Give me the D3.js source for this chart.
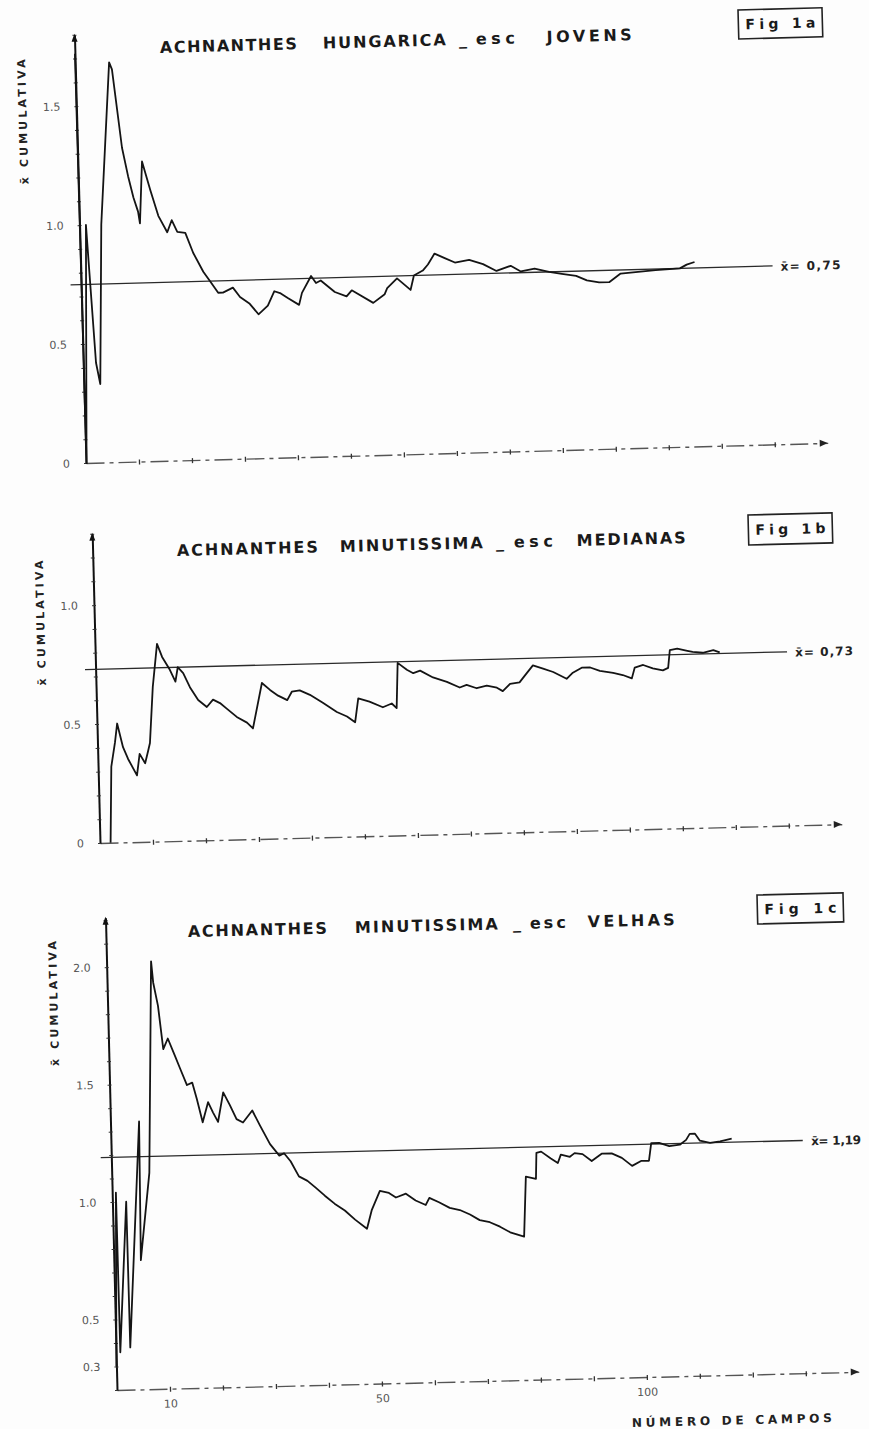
<!DOCTYPE html>
<html lang="pt">
<head>
<meta charset="utf-8">
<title>Achnanthes - media cumulativa</title>
<script src="https://cdnjs.cloudflare.com/ajax/libs/d3/7.8.5/d3.min.js"></script>
<style>
  html, body { margin: 0; padding: 0; background: #fdfdfd; }
  #svg-container svg { display: block; }
  text { font-family: "DejaVu Sans", "Liberation Sans", sans-serif; }
</style>
</head>
<body>
<div id="svg-container"></div>
<script>
/// DATA (numero de campos -> media cumulativa)

// Fig 1a  Achnanthes hungarica, esc. jovens
const camposA = [0, 0.1, 1.2, 2.4, 3.1, 4.1, 6.4, 6.9, 8.4, 9.4, 10.3, 11.1, 11.4, 12.1, 13.5, 14.9, 16.5, 17.4, 18.4, 19.9, 21.3, 23.1, 24.3, 25.8, 26.7, 28.6, 29.9, 31.7, 33.3, 35.1, 36.4, 37.6, 38.9, 41.0, 41.6, 43.4, 44.3, 45.2, 47.8, 50.0, 51.0, 55.0, 57.2, 57.7, 59.6, 62.1, 62.8, 64.5, 65.5, 66.8, 68.7, 70.6, 73.3, 75.9, 78.4, 81.1, 83.0, 85.6, 88.3, 90.7, 93.4, 95.4, 97.7, 99.6, 101.8, 105.1, 108.4, 113.0, 114.3, 115.8]
const mediaA = [1.72, 0.0, 1.0, 0.42, 0.33, 1.0, 1.68, 1.65, 1.32, 1.2, 1.11, 1.05, 1.0, 1.26, 1.14, 1.03, 0.96, 1.01, 0.96, 0.955, 0.87, 0.79, 0.75, 0.7, 0.7, 0.72, 0.68, 0.65, 0.605, 0.64, 0.7, 0.69, 0.67, 0.64, 0.69, 0.76, 0.73, 0.74, 0.69, 0.67, 0.695, 0.64, 0.675, 0.7, 0.74, 0.69, 0.75, 0.77, 0.795, 0.84, 0.82, 0.8, 0.81, 0.79, 0.76, 0.78, 0.755, 0.765, 0.75, 0.74, 0.73, 0.71, 0.7, 0.7, 0.735, 0.74, 0.745, 0.75, 0.765, 0.775]
const meanA = 0.75
const meanLabelA = "x̄= 0,75"
const yTicksA = [0, 0.5, 1.0, 1.5]
const yLabelsA = ["0", "0.5", "1.0", "1.5"]

// Fig 1b  Achnanthes minutissima, esc. medianas
const camposB = [2.0, 2.5, 3.3, 3.8, 4.8, 5.7, 7.3, 7.9, 8.9, 9.5, 9.9, 10.7, 11.7, 12.6, 14.0, 15.0, 15.5, 16.5, 17.7, 19.2, 20.8, 22.0, 23.3, 24.6, 26.4, 28.3, 29.4, 31.3, 32.8, 34.3, 36.0, 36.9, 38.4, 40.3, 42.7, 45.3, 47.2, 48.7, 49.4, 51.5, 54.0, 55.7, 56.6, 57.0, 58.7, 59.9, 61.2, 63.6, 66.2, 68.6, 69.9, 71.8, 73.7, 75.6, 76.7, 78.1, 79.9, 81.0, 82.5, 84.4, 86.3, 88.8, 90.0, 91.7, 93.3, 95.1, 97.6, 99.4, 101.1, 101.7, 103.3, 105.1, 107.0, 108.0, 108.4, 109.8, 111.7, 112.7, 114.6, 116.6, 117.8]
const mediaB = [0.0, 0.32, 0.42, 0.5, 0.4, 0.35, 0.28, 0.37, 0.33, 0.38, 0.415, 0.65, 0.83, 0.775, 0.72, 0.67, 0.73, 0.705, 0.645, 0.59, 0.56, 0.59, 0.575, 0.55, 0.515, 0.49, 0.465, 0.655, 0.625, 0.6, 0.58, 0.615, 0.62, 0.6, 0.565, 0.525, 0.505, 0.48, 0.58, 0.565, 0.54, 0.555, 0.535, 0.725, 0.695, 0.68, 0.69, 0.66, 0.64, 0.615, 0.625, 0.61, 0.62, 0.61, 0.595, 0.625, 0.63, 0.66, 0.7, 0.685, 0.67, 0.64, 0.665, 0.685, 0.685, 0.67, 0.66, 0.65, 0.635, 0.68, 0.69, 0.675, 0.665, 0.675, 0.75, 0.755, 0.745, 0.74, 0.735, 0.745, 0.735]
const meanB = 0.73
const meanLabelB = "x̄= 0,73"
const yTicksB = [0, 0.5, 1.0]
const yLabelsB = ["0", "0.5", "1.0"]

// Fig 1c  Achnanthes minutissima, esc. velhas
const camposC = [0.0, 0.7, 0.8, 2.6, 2.7, 5.4, 5.1, 7.1, 8.4, 8.7, 9.5, 10.3, 11.2, 12.4, 13.4, 14.6, 15.6, 16.4, 17.4, 18.5, 19.4, 20.3, 21.4, 22.6, 23.8, 25.0, 26.8, 28.2, 30.0, 31.7, 32.6, 33.8, 35.3, 36.9, 38.4, 40.1, 41.9, 43.8, 45.7, 47.9, 48.9, 50.5, 52.2, 53.5, 55.4, 57.2, 59.1, 59.8, 61.6, 63.6, 65.5, 67.4, 69.2, 71.1, 73.0, 74.9, 77.5, 78.1, 80.0, 80.2, 81.1, 82.9, 84.2, 84.8, 86.5, 87.4, 88.9, 90.6, 92.5, 94.4, 96.3, 98.2, 99.9, 101.4, 101.9, 103.4, 105.3, 107.3, 108.5, 109.2, 110.2, 111.1, 113.0, 114.9, 117.1]
const mediaC = [0.3, 1.04, 0.36, 1.0, 0.38, 1.34, 0.75, 1.12, 2.02, 1.93, 1.83, 1.645, 1.69, 1.62, 1.56, 1.49, 1.5, 1.43, 1.33, 1.415, 1.37, 1.33, 1.455, 1.4, 1.34, 1.325, 1.375, 1.31, 1.23, 1.18, 1.19, 1.155, 1.09, 1.07, 1.04, 1.005, 0.97, 0.94, 0.9, 0.86, 0.94, 1.02, 1.01, 0.99, 1.005, 0.975, 0.955, 0.985, 0.965, 0.94, 0.93, 0.91, 0.885, 0.875, 0.855, 0.83, 0.81, 1.065, 1.055, 1.165, 1.17, 1.14, 1.12, 1.155, 1.145, 1.16, 1.155, 1.125, 1.155, 1.155, 1.135, 1.1, 1.12, 1.12, 1.195, 1.195, 1.18, 1.185, 1.205, 1.23, 1.23, 1.2, 1.19, 1.195, 1.205]
const meanC = 1.19
const meanLabelC = "x̄= 1,19"
const yTicksC = [0.3, 0.5, 1.0, 1.5, 2.0]
const yLabelsC = ["0.3", "0.5", "1.0", "1.5", "2.0"]
const xTicksC = [10, 50, 100]
const xLabelsC = ["10", "50", "100"]

const yTitle = "x̄ CUMULATIVA"
const xTitle = "NÚMERO DE CAMPOS"

/// LAYOUT

const width = 869
const height = 1429
const pxPerCampo = 5.3
const xMax = 140
const meanFrom = -2
const meanTo = 130.5

// the scan is slightly rotated, every panel is drawn in its own tilted frame
const panels = [
  {
    campos: camposA, media: mediaA, mean: meanA, meanLabel: meanLabelA, meanLabelW: 60,
    yTicks: yTicksA, yLabels: yLabelsA, fig: "Fig 1a",
    ox: 86, oy: 463, angle: 1.55, pxUnit: 238, yBase: 0, yTop: 1.8, yTitleAt: 1.44,
    titleBase: [160, 53],
    title: [["ACHNANTHES", 160, 297], ["HUNGARICA", 323, 446], ["_", 459, 469], ["esc", 476, 515], ["JOVENS", 547, 632]],
    figBox: [738, 10, 84, 29],
  },
  {
    campos: camposB, media: mediaB, mean: meanB, meanLabel: meanLabelB, meanLabelW: 58,
    yTicks: yTicksB, yLabels: yLabelsB, fig: "Fig 1b",
    ox: 100, oy: 843, angle: 1.45, pxUnit: 238, yBase: 0, yTop: 1.3, yTitleAt: 0.93,
    titleBase: [177, 556],
    title: [["ACHNANTHES", 177, 318], ["MINUTISSIMA", 340, 483], ["_", 496, 509], ["esc", 514, 553], ["MEDIANAS", 577, 686]],
    figBox: [748, 515, 84, 30],
  },
  {
    campos: camposC, media: mediaC, mean: meanC, meanLabel: meanLabelC, meanLabelW: 50,
    yTicks: yTicksC, yLabels: yLabelsC, fig: "Fig 1c",
    xTicks: xTicksC, xLabels: xLabelsC,
    ox: 117, oy: 1390, angle: 1.4, pxUnit: 235, yBase: 0.2, yTop: 2.21, yTitleAt: 1.85,
    titleBase: [188, 937],
    title: [["ACHNANTHES", 188, 327], ["MINUTISSIMA", 355, 498], ["_", 513, 525], ["esc", 530, 566], ["VELHAS", 588, 675]],
    figBox: [757, 895, 86, 29],
  },
]

const svg = d3
  .select("#svg-container")
  .append("svg")
  .attr("width", width)
  .attr("height", height)
  .attr("viewBox", [0, 0, width, height])

svg.append("rect").attr("width", width).attr("height", height).attr("fill", "#fdfdfd")

// screen point -> tilted panel frame
const toLocal = (p, X, Y) => {
  const a = (p.angle * Math.PI) / 180
  const dx = X - p.ox
  const dy = Y - p.oy
  return [dx * Math.cos(a) - dy * Math.sin(a), dx * Math.sin(a) + dy * Math.cos(a)]
}

panels.forEach((p) => {
  const g = svg
    .append("g")
    .attr("transform", `translate(${p.ox},${p.oy}) rotate(${-p.angle})`)

  /// SCALES

  const xScale = d3
    .scaleLinear()
    .domain([0, xMax])
    .range([0, xMax * pxPerCampo])

  const yScale = d3
    .scaleLinear()
    .domain([p.yBase, p.yTop])
    .range([0, -(p.yTop - p.yBase) * p.pxUnit])

  /// AXES

  const xAxisGenerator = d3
    .axisBottom(xScale)
    .tickValues(d3.range(10, xMax, 10))
    .tickSizeInner(3)
    .tickSizeOuter(0)
    .tickFormat("")

  g.append("g")
    .attr("class", "x-axis")
    .call(xAxisGenerator)
    .call((a) =>
      a.select(".domain")
        .attr("stroke", "#555")
        .attr("stroke-width", 1.4)
        .attr("stroke-dasharray", "18 5 4 5")
    )
    .call((a) =>
      a.selectAll(".tick line").attr("stroke", "#333").attr("stroke-width", 1.3).attr("y1", -2)
    )

  g.append("path")
    .attr("d", `M${xScale(xMax) - 8},-3.5L${xScale(xMax)},0L${xScale(xMax) - 8},3.5Z`)
    .attr("fill", "#222")

  if (p.xTicks) {
    g.append("g")
      .attr("class", "x-labels")
      .call(
        d3.axisBottom(xScale)
          .tickValues(p.xTicks)
          .tickSize(0)
          .tickPadding(11)
          .tickFormat((d, i) => p.xLabels[i])
      )
      .call((a) => a.select(".domain").remove())
      .selectAll("text")
      .style("font-family", "DejaVu Sans")
      .style("font-size", "11px")
      .attr("fill", "#555")

    const xt = toLocal(p, 632, 1427)
    g.append("text")
      .attr("x", xt[0])
      .attr("y", xt[1])
      .attr("textLength", 200)
      .attr("lengthAdjust", "spacing")
      .style("font-size", "12px")
      .style("font-weight", "bold")
      .attr("fill", "#222")
      .text(xTitle)
  }

  const minorTicks = d3
    .range(Math.ceil(p.yBase * 10), Math.floor(p.yTop * 10) + 1)
    .map((d) => d / 10)

  g.append("g")
    .attr("class", "y-axis")
    .call(d3.axisLeft(yScale).tickValues(minorTicks).tickSizeInner(3).tickSizeOuter(0).tickFormat(""))
    .call((a) => a.select(".domain").attr("stroke", "#111").attr("stroke-width", 2))
    .call((a) => a.selectAll(".tick line").attr("stroke", "#333").attr("x2", 2).attr("x1", -2))

  g.append("g")
    .attr("class", "y-labels")
    .call(
      d3.axisLeft(yScale)
        .tickValues(p.yTicks)
        .tickSize(0)
        .tickPadding(16)
        .tickFormat((d, i) => p.yLabels[i])
    )
    .call((a) => a.select(".domain").remove())
    .selectAll("text")
    .style("font-family", "DejaVu Sans")
    .style("font-size", "11px")
    .attr("fill", "#555")

  const yTopPx = yScale(p.yTop)
  g.append("path")
    .attr("d", `M-3,${yTopPx + 7}L0,${yTopPx - 1}L3,${yTopPx + 7}Z`)
    .attr("fill", "#111")

  g.append("text")
    .attr("transform", `translate(-50,${yScale(p.yTitleAt)}) rotate(-90)`)
    .attr("text-anchor", "middle")
    .attr("textLength", 125)
    .attr("lengthAdjust", "spacing")
    .style("font-size", "11px")
    .style("font-weight", "bold")
    .attr("fill", "#222")
    .text(yTitle)

  /// LINES

  const lineGenerator = d3
    .line()
    .x((d) => xScale(d[0]))
    .y((d) => yScale(d[1]))

  g.append("path")
    .datum([[meanFrom, p.mean], [meanTo, p.mean]])
    .attr("d", lineGenerator)
    .attr("fill", "none")
    .attr("stroke", "#2a2a2a")
    .attr("stroke-width", 1.3)

  g.append("text")
    .attr("x", xScale(meanTo) + 8)
    .attr("y", yScale(p.mean) + 5)
    .attr("textLength", p.meanLabelW)
    .attr("lengthAdjust", "spacing")
    .style("font-size", "12px")
    .style("font-weight", "bold")
    .attr("fill", "#222")
    .text(p.meanLabel)

  g.append("path")
    .datum(d3.zip(p.campos, p.media))
    .attr("d", lineGenerator)
    .attr("fill", "none")
    .attr("stroke", "#141414")
    .attr("stroke-width", 1.8)
    .attr("stroke-linejoin", "round")

  /// TITLE AND FIG BOX

  const tb = toLocal(p, p.titleBase[0], p.titleBase[1])
  g.selectAll(".title-word")
    .data(p.title)
    .join("text")
    .attr("class", "title-word")
    .attr("x", (d) => tb[0] + d[1] - p.titleBase[0])
    .attr("y", tb[1])
    .attr("textLength", (d) => (d[0].length > 1 ? d[2] - d[1] : null))
    .attr("lengthAdjust", "spacing")
    .style("font-size", "16px")
    .style("font-weight", "bold")
    .attr("fill", "#1a1a1a")
    .text((d) => d[0])

  const fb = toLocal(p, p.figBox[0], p.figBox[1])
  g.append("rect")
    .attr("x", fb[0])
    .attr("y", fb[1])
    .attr("width", p.figBox[2])
    .attr("height", p.figBox[3])
    .attr("fill", "none")
    .attr("stroke", "#222")
    .attr("stroke-width", 1.6)

  g.append("text")
    .attr("x", fb[0] + 7)
    .attr("y", fb[1] + p.figBox[3] / 2 + 5)
    .attr("textLength", p.figBox[2] - 14)
    .attr("lengthAdjust", "spacing")
    .style("font-size", "14px")
    .style("font-weight", "bold")
    .attr("fill", "#1a1a1a")
    .text(p.fig)
})
</script>
</body>
</html>
